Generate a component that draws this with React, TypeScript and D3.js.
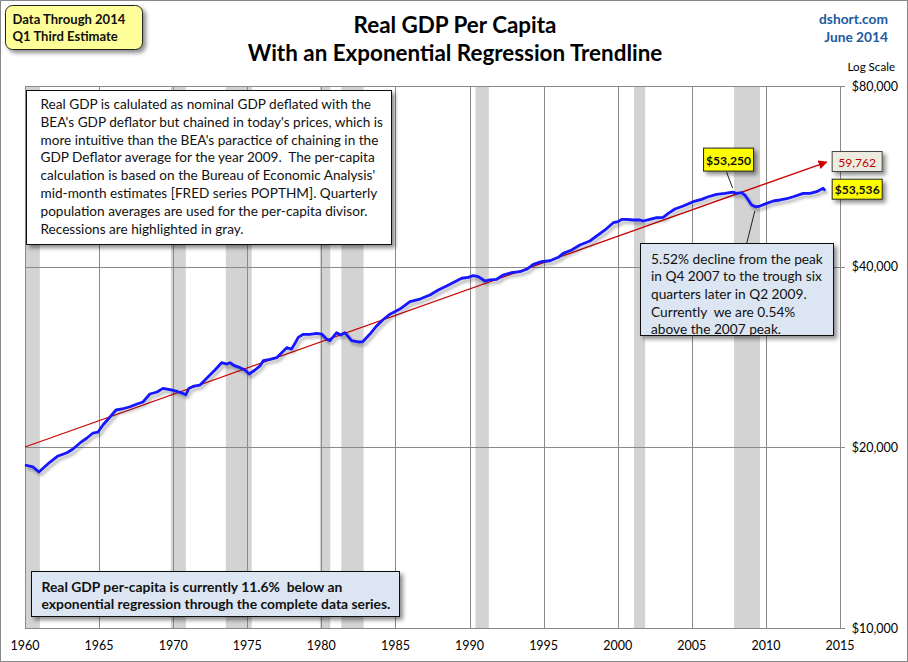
import React, { useLayoutEffect, useRef, useState } from "react";
import * as d3 from "d3";

const W = 908;
const H = 662;

// Quarterly-ish readings of real GDP per capita (chained, 2014 dollars)
const years = [
  1960.0, 1960.54, 1960.94, 1961.69, 1962.23, 1962.83, 1963.24, 1963.71, 1964.18, 1964.59,
  1964.93, 1965.26, 1965.74, 1966.14, 1966.55, 1967.09, 1967.56, 1967.96, 1968.43, 1968.91,
  1969.31, 1969.78, 1970.26, 1970.6, 1970.85, 1971.05, 1971.4, 1971.81, 1972.03, 1972.48,
  1972.82, 1973.27, 1973.61, 1973.83, 1974.17, 1974.51, 1974.84, 1975.13, 1975.52, 1975.86,
  1976.08, 1976.53, 1976.98, 1977.32, 1977.66, 1977.99, 1978.22, 1978.44, 1978.78, 1979.23,
  1979.68, 1980.02, 1980.36, 1980.58, 1981.03, 1981.3, 1981.59, 1982.04, 1982.49, 1982.79,
  1983.28, 1983.73, 1984.14, 1984.63, 1985.3, 1985.98, 1986.65, 1987.33, 1987.89, 1988.45,
  1989.01, 1989.47, 1989.91, 1990.25, 1990.59, 1991.04, 1991.38, 1991.83, 1992.27, 1992.84,
  1993.4, 1993.85, 1994.3, 1994.86, 1995.43, 1995.99, 1996.32, 1996.89, 1997.45, 1998.12,
  1999.14, 1999.7, 2000.03, 2000.26, 2000.6, 2001.05, 2001.5, 2001.72, 2002.17, 2002.62,
  2003.07, 2003.41, 2003.86, 2004.42, 2005.09, 2005.66, 2006.11, 2006.67, 2007.23, 2007.75,
  2008.03, 2008.36, 2008.58, 2008.81, 2009.03, 2009.32, 2009.6, 2010.05, 2010.5, 2010.94,
  2011.4, 2011.84, 2012.52, 2012.97, 2013.42, 2013.86, 2014.0,
];
const gdp = [
  18690, 18550, 18190, 18900, 19350, 19590, 19870, 20340, 20730, 21130,
  21210, 21790, 22470, 23080, 23170, 23370, 23620, 23800, 24540, 24730,
  25080, 24950, 24780, 24630, 24460, 25060, 25300, 25400, 25730, 26400,
  26910, 27670, 27530, 27670, 27330, 27150, 26910, 26500, 26910, 27330,
  27890, 28030, 28210, 28750, 29310, 29160, 29810, 30500, 30860, 30860,
  30970, 30890, 30270, 30110, 31050, 30770, 31050, 30110, 29960, 29990,
  30890, 31860, 32600, 33340, 33990, 34970, 35330, 35880, 36570, 37140,
  37760, 38260, 38400, 38640, 38490, 37860, 38010, 38110, 38740, 39090,
  39230, 39600, 40360, 40770, 40920, 41460, 42100, 42640, 43460, 44140,
  46050, 47350, 47530, 47970, 47970, 47840, 47840, 47660, 47970, 48260,
  48340, 49080, 49900, 50480, 51320, 51790, 52310, 52800, 53000, 53250,
  53000, 53130, 52650, 51660, 50670, 50311, 50480, 51000, 51460, 51660,
  51910, 52310, 53000, 53000, 53330, 54030, 53536,
];

const recessionStart = [1960.0, 1969.85, 1973.55, 1979.9, 1981.35, 1990.4, 2001.1, 2007.85];
const recessionEnd = [1961.0, 1970.85, 1975.3, 1980.6, 1982.85, 1991.3, 2001.85, 2009.6];

const xTicks = [1960, 1965, 1970, 1975, 1980, 1985, 1990, 1995, 2000, 2005, 2010, 2015];
const yTicks = [10000, 20000, 40000, 80000];
const yTickLabels = ["$10,000", "$20,000", "$40,000", "$80,000"];

const trendYears = [1960, 2014.1];
const trendValues = [20025, 59762];

const peakYear = 2007.75;
const peakValue = 53250;
const troughYear = 2009.32;
const troughValue = 50311;
const lastYear = 2014.0;
const lastValue = 53536;

const titleLines = ["Real GDP Per Capita", "With an Exponential Regression Trendline"];
const badgeLines = ["Data Through 2014", "Q1 Third Estimate"];
const noteLines = [
  "Real GDP is calulated as nominal GDP deflated with the",
  "BEA's GDP deflator but chained in today's prices, which is",
  "more intuitive than the BEA's paractice of chaining in the",
  "GDP Deflator average for the year 2009.  The per-capita",
  "calculation is based on the Bureau of Economic Analysis'",
  "mid-month estimates [FRED series POPTHM]. Quarterly",
  "population averages are used for the per-capita divisor.",
  "Recessions are highlighted in gray.",
];
const calloutLines = [
  "5.52% decline from the peak",
  "in Q4 2007 to the trough six",
  "quarters later in Q2 2009.",
  "Currently  we are 0.54%",
  "above the 2007 peak.",
];
const bottomLines = [
  "Real GDP per-capita is currently 11.6%  below an",
  "exponential regression through the complete data series.",
];

const FONT = "Lato, 'Open Sans', sans-serif";

// measure a reference string and scale the font so it matches the target width
function useFit(base: number, target: number): [React.RefObject<SVGTextElement>, number] {
  const ref = useRef<SVGTextElement>(null);
  const [size, setSize] = useState(base);
  useLayoutEffect(() => {
    const el = ref.current;
    if (el) {
      const w = el.getComputedTextLength();
      if (w > 0) setSize((base * target) / w);
    }
  }, []);
  return [ref as React.RefObject<SVGTextElement>, size];
}

type BlockProps = {
  lines: string[];
  x: number;
  y0: number;
  dy: number;
  base: number;
  refIndex: number;
  target: number;
  weight?: string;
  fill?: string;
  anchor?: string;
};

function Block({ lines, x, y0, dy, base, refIndex, target, weight = "normal", fill = "#111", anchor = "start" }: BlockProps) {
  const [ref, size] = useFit(base, target);
  return (
    <g>
      {lines.map((s, i) => (
        <text
          key={i}
          ref={i === refIndex ? ref : undefined}
          x={x}
          y={y0 + i * dy}
          fontSize={size}
          fontWeight={weight}
          fill={fill}
          textAnchor={anchor as any}
          style={{ whiteSpace: "pre" }}
        >
          {s}
        </text>
      ))}
    </g>
  );
}

export default function App() {
  const x = d3.scaleLinear().domain([1960, 2015]).range([25, 840]);
  const y = d3.scaleLog().domain([10000, 80000]).range([628, 86]);
  const [x0, x1] = x.range();
  const [yb, yt] = y.range();

  const line = d3
    .line<number>()
    .x((_, i) => x(years[i]))
    .y((d) => y(d));
  const trend = d3
    .line<number>()
    .x((_, i) => x(trendYears[i]))
    .y((d) => y(d));

  const px = x(peakYear), py = y(peakValue);
  const tx = x(troughYear), ty = y(troughValue);
  const lx = x(lastYear), ly = y(lastValue);
  const ex = x(trendYears[1]), ey = y(trendValues[1]);

  return (
    <svg
      width={W}
      height={H}
      style={{ position: "absolute", left: 0, top: 0, background: "#fff" }}
      fontFamily={FONT}
    >
      <defs>
        <filter id="shadow" x="-10%" y="-10%" width="130%" height="140%">
          <feDropShadow dx="3" dy="3" stdDeviation="2" floodColor="#000" floodOpacity="0.45" />
        </filter>
        <filter id="lshadow" x="-5%" y="-5%" width="110%" height="120%">
          <feDropShadow dx="2" dy="3" stdDeviation="1.5" floodColor="#000" floodOpacity="0.3" />
        </filter>
        <marker id="arrow" viewBox="0 0 10 10" refX="9" refY="5" markerWidth="9" markerHeight="9" orient="auto" markerUnits="userSpaceOnUse">
          <path d="M0,0 L10,5 L0,10 z" fill="#cc0000" />
        </marker>
      </defs>
      <rect x={0.5} y={0.5} width={W - 1} height={H - 1} fill="#fff" stroke="#888" />

      {/* recessions */}
      {recessionStart.map((s, i) => (
        <rect key={"r" + i} x={x(s)} y={yt} width={x(recessionEnd[i]) - x(s)} height={yb - yt} fill="#d3d3d3" />
      ))}

      {/* gridlines */}
      {xTicks.map((t) => (
        <line key={"gx" + t} x1={Math.round(x(t)) + 0.5} x2={Math.round(x(t)) + 0.5} y1={yt} y2={yb} stroke="#8a8a8a" strokeWidth={1} />
      ))}
      {yTicks.map((t) => (
        <line key={"gy" + t} x1={x0} x2={x1 + 5} y1={Math.round(y(t)) + 0.5} y2={Math.round(y(t)) + 0.5} stroke="#8a8a8a" strokeWidth={1} />
      ))}
      <line x1={x1 + 0.5} x2={x1 + 0.5} y1={yt} y2={yb} stroke="#8a8a8a" />
      <line x1={x0} x2={x1 + 5} y1={yb + 0.5} y2={yb + 0.5} stroke="#8a8a8a" />

      {/* axis labels */}
      {xTicks.map((t) => (
        <text key={"xl" + t} x={x(t)} y={650} textAnchor="middle" fontSize={12.5} fill="#000">
          {t}
        </text>
      ))}
      {yTicks.map((t, i) => (
        <text key={"yl" + t} x={898} y={y(t) + 4.5} textAnchor="end" fontSize={12.5} fill="#000">
          {yTickLabels[i]}
        </text>
      ))}
      <Block lines={["Log Scale"]} x={895} y0={71} dy={0} base={13} refIndex={0} target={47.5} fill="#000" anchor="end" />

      {/* trend */}
      <path d={trend(trendValues) || ""} fill="none" stroke="#cc0000" strokeWidth={1.3} markerEnd="url(#arrow)" />

      {/* data line */}
      <path d={line(gdp) || ""} fill="none" stroke="#1414ff" strokeWidth={2.8} strokeLinejoin="round" filter="url(#lshadow)" />

      {/* title */}
      <Block lines={titleLines} x={455} y0={33} dy={28} base={22} refIndex={1} target={415} weight="bold" fill="#000" anchor="middle" />

      <Block lines={["dshort.com", "June 2014"]} x={888} y0={24} dy={18} base={14} refIndex={0} target={69} weight="bold" fill="#215a9f" anchor="end" />

      {/* top-left date badge */}
      <rect x={5.5} y={5.5} width={137} height={44} rx={7} fill="#ffff99" stroke="#222" filter="url(#shadow)" />
      <Block lines={badgeLines} x={12.5} y0={24} dy={17} base={14} refIndex={0} target={113} weight="bold" />

      {/* explanatory note */}
      <rect x={26.5} y={90.5} width={365} height={154} fill="#fff" stroke="#111" filter="url(#shadow)" />
      <Block lines={noteLines} x={40.5} y0={109} dy={17.8} base={13.6} refIndex={2} target={338} />

      {/* peak label */}
      <line x1={px - 6} y1={py - 20} x2={px} y2={py - 4} stroke="#222" strokeWidth={1} />
      <rect x={px - 29} y={py - 44} width={50} height={23} fill="#ffff00" stroke="#222" filter="url(#shadow)" />
      <Block lines={["$53,250"]} x={px - 4} y0={py - 27.5} dy={0} base={12.5} refIndex={0} target={45} weight="bold" anchor="middle" />

      {/* trend end label */}
      <rect x={ex + 5.5} y={ey - 10.5} width={50} height={20} fill="#eeece1" stroke="#444" filter="url(#shadow)" />
      <Block lines={["59,762"]} x={ex + 30.5} y0={ey + 4.5} dy={0} base={12.5} refIndex={0} target={38} fill="#c00000" anchor="middle" />

      {/* last value label */}
      <rect x={lx + 7} y={ly - 11.5} width={50} height={20} fill="#ffff00" stroke="#222" filter="url(#shadow)" />
      <Block lines={["$53,536"]} x={lx + 32} y0={ly + 3.5} dy={0} base={12.5} refIndex={0} target={45} weight="bold" anchor="middle" />

      {/* trough callout */}
      <line x1={tx - 1} y1={ty + 4} x2={tx - 9} y2={ty + 36} stroke="#222" strokeWidth={1} />
      <rect x={640.5} y={243.5} width={193} height={92} fill="#dce6f2" stroke="#111" filter="url(#shadow)" />
      <Block lines={calloutLines} x={651} y0={263.5} dy={17.7} base={13.8} refIndex={0} target={172} />

      {/* bottom note */}
      <rect x={31.5} y={571.5} width={368} height={45} fill="#dce6f2" stroke="#111" filter="url(#shadow)" />
      <Block lines={bottomLines} x={41.5} y0={591.5} dy={17} base={13.5} refIndex={1} target={349} weight="bold" />
    </svg>
  );
}
